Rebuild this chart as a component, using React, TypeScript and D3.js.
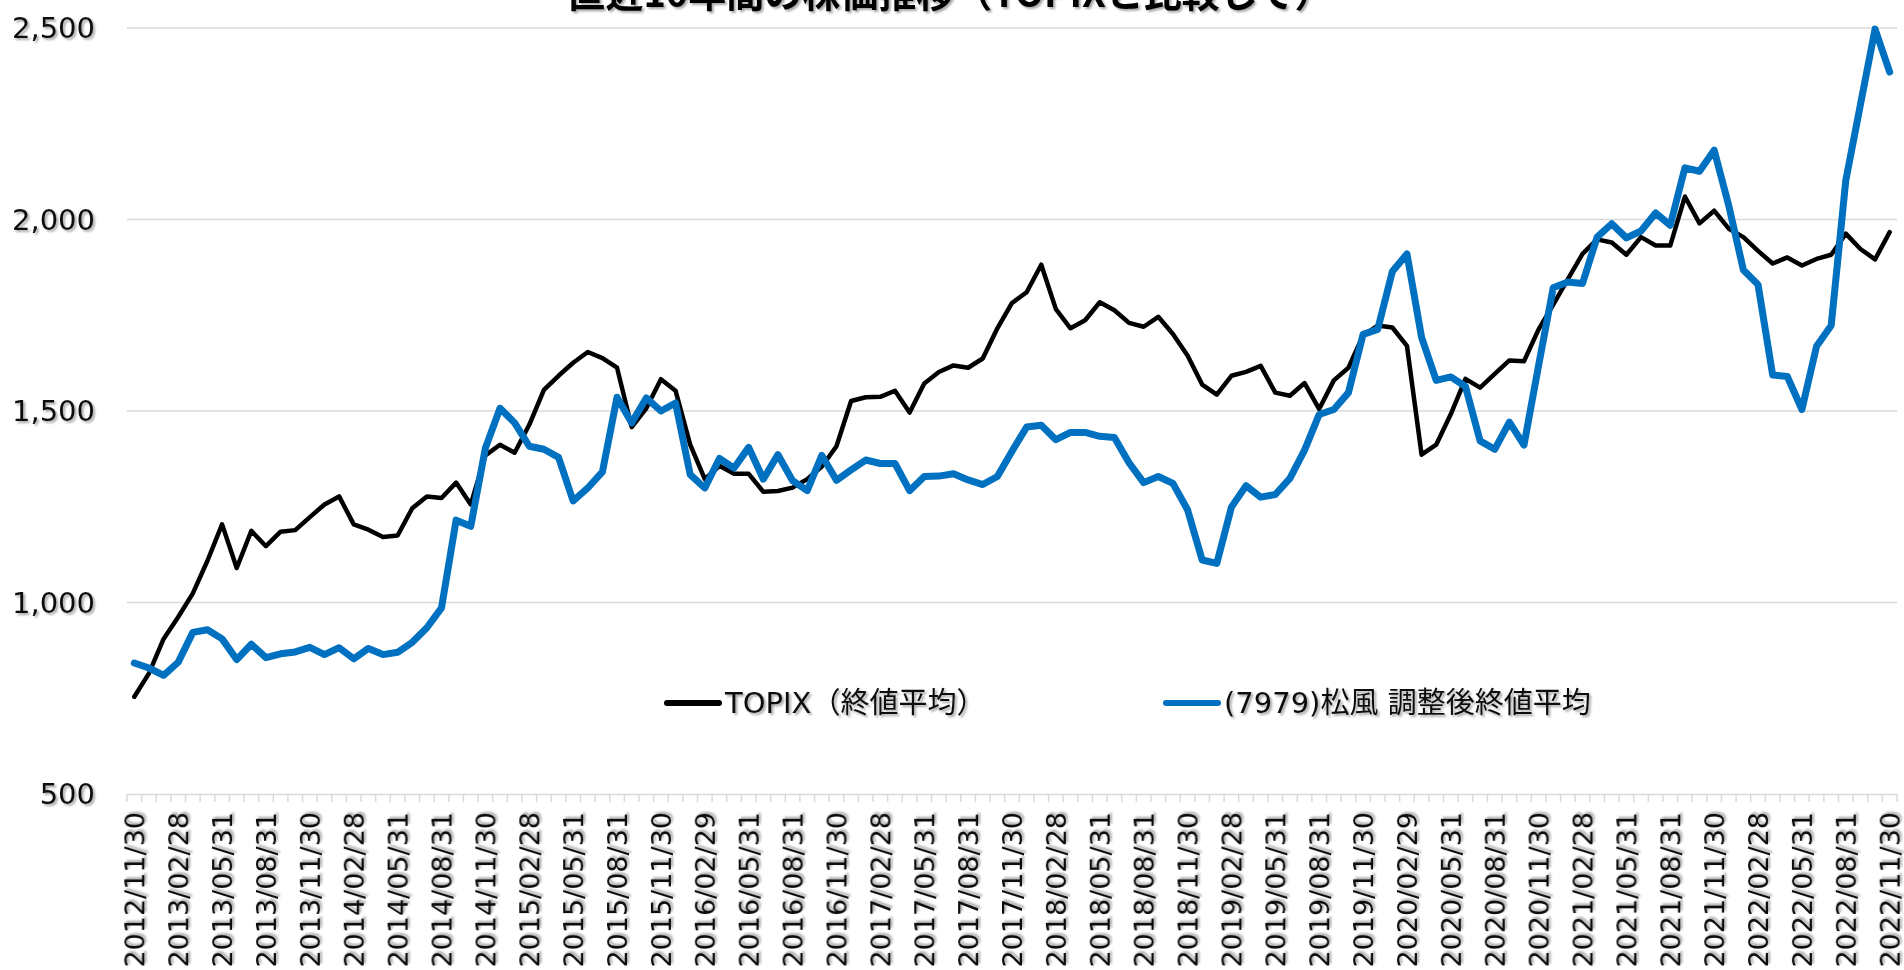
import * as d3 from 'd3'
import { useEffect, useRef } from 'react'

// 2012/11 .. 2022/11, month-end dates
const START_YEAR = 2012
const START_MONTH = 11
const MONTH_COUNT = 121
const fmt = d3.timeFormat('%Y/%m/%d')
const months: string[] = d3.range(MONTH_COUNT).map(k => fmt(new Date(START_YEAR, START_MONTH + k, 0)))

// TOPIX（終値平均）
const topix: number[] = [
  754, 815, 905, 962, 1024, 1109, 1204, 1090, 1187, 1147,
  1185, 1189, 1223, 1256, 1277, 1204, 1190, 1171, 1175, 1246,
  1277, 1273, 1313, 1256, 1384, 1412, 1391, 1464, 1555, 1592,
  1626, 1654, 1638, 1613, 1458, 1507, 1583, 1553, 1412, 1322,
  1357, 1336, 1336, 1289, 1291, 1300, 1322, 1355, 1408, 1526,
  1536, 1537, 1553, 1496, 1572, 1602, 1619, 1613, 1637, 1716,
  1782, 1810, 1882, 1766, 1716, 1737, 1784, 1763, 1730, 1720,
  1746, 1701, 1645, 1569, 1543, 1592, 1602, 1618, 1548, 1540,
  1573, 1505, 1580, 1613, 1697, 1723, 1718, 1670, 1386, 1412,
  1492, 1584, 1561, 1597, 1632, 1630, 1713, 1778, 1844, 1910,
  1948, 1940, 1908, 1954, 1932, 1932, 2060, 1990, 2023, 1976,
  1954, 1918, 1885, 1901, 1880, 1897, 1908, 1963, 1923, 1896,
  1967,
]

// (7979)松風 調整後終値平均
const shofu: number[] = [
  842, 829, 810, 844, 922, 929, 905, 851, 891, 856,
  866, 871, 883, 864, 882, 853, 880, 864, 870, 896,
  934, 986, 1215, 1199, 1403, 1507, 1469, 1408, 1400, 1379,
  1265, 1299, 1341, 1536, 1469, 1534, 1500, 1521, 1334, 1299,
  1376, 1351, 1405, 1322, 1386, 1318, 1292, 1384, 1319, 1346,
  1372, 1363, 1363, 1292, 1329, 1330, 1336, 1320, 1308, 1329,
  1395, 1458, 1463, 1425, 1444, 1444, 1434, 1431, 1365, 1313,
  1329, 1311, 1242, 1111, 1102, 1249, 1305, 1275, 1282, 1324,
  1398, 1491, 1504, 1548, 1700, 1713, 1864, 1910, 1692, 1580,
  1589, 1564, 1422, 1400, 1471, 1411, 1619, 1822, 1837, 1833,
  1954, 1989, 1952, 1970, 2017, 1985, 2135, 2126, 2181, 2036,
  1868, 1830, 1594, 1590, 1504, 1669, 1723, 2102, 2300, 2497,
  2385,
]

const yTicks = [500, 1000, 1500, 2000, 2500]
const seriesNames = ['TOPIX（終値平均）', '(7979)松風 調整後終値平均']
const title = '直近10年間の株価推移（TOPIXと比較して）'

const W = 1904, H = 970
const LATIN = '"DejaVu Sans", "Noto Sans CJK JP", sans-serif'

function drawChart(node: SVGSVGElement) {
  const svg = d3.select(node)
  svg.selectAll('*').remove()

  svg.append('defs').append('filter')
    .attr('id', 'tshadow')
    .attr('x', '-5%').attr('y', '-20%').attr('width', '115%').attr('height', '150%')
    .append('feDropShadow')
    .attr('dx', 2).attr('dy', 2).attr('stdDeviation', 1)
    .attr('flood-color', '#000').attr('flood-opacity', 0.35)

  const x = d3.scaleBand<string>().domain(months).range([127, 1897]).padding(0)
  const y = d3.scaleLinear().domain([500, 2500]).range([794, 28])
  const cx = (m: string) => (x(m) as number) + x.bandwidth() / 2

  // gridlines
  svg.append('g').selectAll('line').data(yTicks.slice(1)).join('line')
    .attr('x1', 127).attr('x2', 1897)
    .attr('y1', d => y(d)).attr('y2', d => y(d))
    .attr('stroke', '#d9d9d9').attr('stroke-width', 1.5)

  // category axis
  const xAxis = d3.axisBottom(x).tickSize(0).tickFormat(() => '')
  const gx = svg.append('g').attr('transform', `translate(0,${y(500)})`).call(xAxis)
  gx.select('.domain').attr('stroke', '#d9d9d9').attr('stroke-width', 1.5)
  gx.append('g').selectAll('line').data(d3.range(MONTH_COUNT + 1)).join('line')
    .attr('x1', d => 127 + d * x.bandwidth()).attr('x2', d => 127 + d * x.bandwidth())
    .attr('y1', 0).attr('y2', 8)
    .attr('stroke', '#d9d9d9').attr('stroke-width', 1.5)

  svg.append('g').selectAll('text').data(months.filter((_, i) => i % 3 === 0)).join('text')
    .attr('transform', d => `translate(${cx(d)},${812}) rotate(-90)`)
    .attr('text-anchor', 'end').attr('dominant-baseline', 'central')
    .attr('font-family', LATIN).attr('font-size', 27).attr('fill', '#111')
    .attr('filter', 'url(#tshadow)')
    .text(d => d)

  // value axis labels
  svg.append('g').selectAll('text').data(yTicks).join('text')
    .attr('x', 95).attr('y', d => y(d))
    .attr('text-anchor', 'end').attr('dominant-baseline', 'central')
    .attr('font-family', LATIN).attr('font-size', 29).attr('fill', '#111')
    .attr('filter', 'url(#tshadow)')
    .text(d => d3.format(',')(d))

  // lines
  const line = d3.line<number>().x((_, i) => cx(months[i])).y(d => y(d))
  svg.append('path').datum(topix).attr('d', line)
    .attr('fill', 'none').attr('stroke', '#000').attr('stroke-width', 4.5)
    .attr('stroke-linejoin', 'round').attr('stroke-linecap', 'round')
  svg.append('path').datum(shofu).attr('d', line)
    .attr('fill', 'none').attr('stroke', '#0070c0').attr('stroke-width', 7)
    .attr('stroke-linejoin', 'round').attr('stroke-linecap', 'round')

  // legend
  const legend = [
    { name: seriesNames[0], color: '#000', x0: 667 },
    { name: seriesNames[1], color: '#0070c0', x0: 1166 },
  ]
  const lg = svg.append('g').selectAll('g').data(legend).join('g')
    .attr('transform', d => `translate(${d.x0},703)`)
  lg.append('line').attr('x1', 0).attr('x2', 52).attr('y1', 0).attr('y2', 0)
    .attr('stroke', d => d.color).attr('stroke-width', 6).attr('stroke-linecap', 'round')
  lg.append('text').attr('x', 58).attr('y', 0).attr('dominant-baseline', 'central')
    .attr('font-family', LATIN).attr('font-size', 29).attr('fill', '#111')
    .attr('filter', 'url(#tshadow)')
    .text(d => d.name)

  // title (mostly above the picture's top edge)
  svg.append('text').attr('x', 950).attr('y', 7).attr('text-anchor', 'middle')
    .attr('font-family', '"Noto Sans CJK JP", sans-serif').attr('font-weight', 700)
    .attr('font-size', 38).attr('fill', '#000')
    .attr('filter', 'url(#tshadow)')
    .text(title)
}

export default function App() {
  const ref = useRef<SVGSVGElement>(null)
  useEffect(() => {
    if (ref.current) drawChart(ref.current)
  }, [])
  return (
    <svg ref={ref} width={W} height={H}
      style={{ position: 'absolute', left: 0, top: 0, background: '#fff', display: 'block' }} />
  )
}
